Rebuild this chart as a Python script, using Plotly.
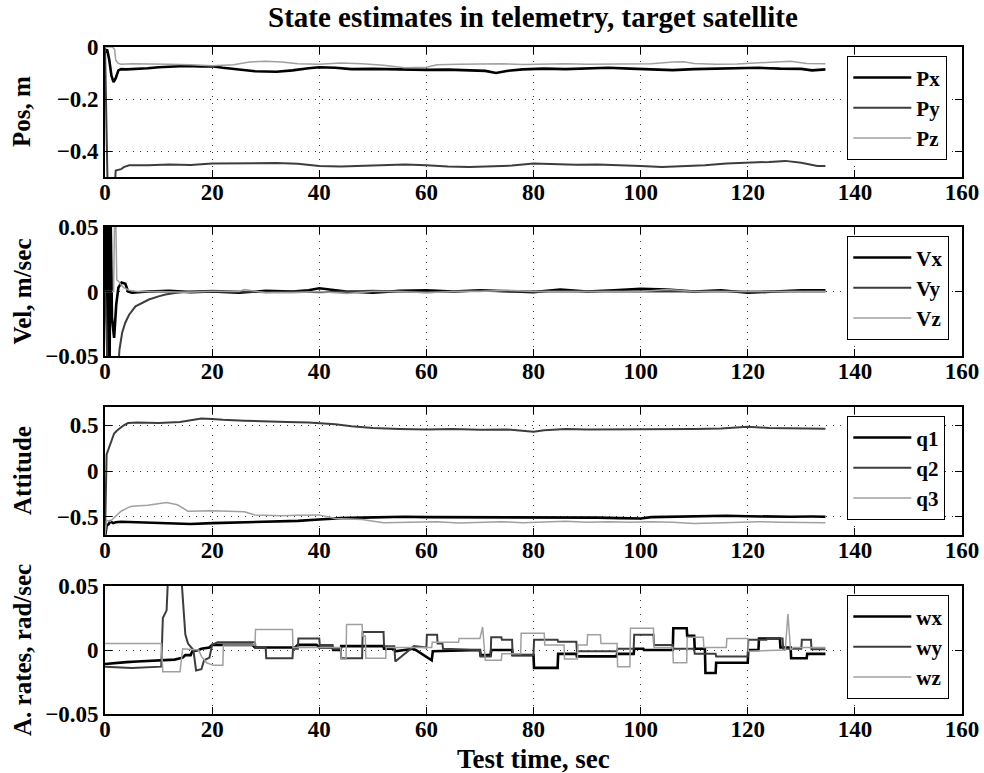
import plotly.graph_objects as go

# ---------------- data ----------------
# Position estimates, m
px_t = [0, 0.4, 0.8, 1.2, 1.6, 2.0, 2.5, 3.0, 4, 6, 8, 10, 12, 15, 18, 20, 22, 25, 28, 32, 35, 38, 40, 43,
        46, 50, 53, 56, 60, 64, 68, 71, 73, 75, 78, 82, 86, 90, 94, 98, 102, 106, 110, 114, 118, 122, 126,
        130, 132, 134.5]
px_v = [-0.02, -0.01, -0.05, -0.11, -0.135, -0.12, -0.09, -0.085, -0.086, -0.085, -0.082, -0.078, -0.076,
        -0.073, -0.075, -0.074, -0.08, -0.086, -0.093, -0.095, -0.09, -0.082, -0.078, -0.08, -0.085, -0.084,
        -0.086, -0.087, -0.088, -0.087, -0.09, -0.092, -0.1, -0.092, -0.086, -0.083, -0.085, -0.082, -0.08,
        -0.083, -0.086, -0.089, -0.085, -0.083, -0.082, -0.08, -0.083, -0.084, -0.09, -0.086]
py_t = [0, 0.3, 0.5, 1.8, 2.0, 3.0, 3.5, 4.5, 8, 12, 16, 20, 24, 28, 32, 36, 40, 44, 48, 52, 56, 60, 64,
        68, 72, 76, 80, 84, 88, 92, 96, 100, 104, 108, 112, 116, 120, 124, 127, 130, 133, 134.5]
py_v = [0, -0.3, -0.55, -0.55, -0.475, -0.47, -0.462, -0.455, -0.455, -0.452, -0.454, -0.448, -0.447,
        -0.445, -0.446, -0.449, -0.458, -0.46, -0.457, -0.455, -0.452, -0.455, -0.46, -0.462, -0.458,
        -0.456, -0.448, -0.45, -0.453, -0.452, -0.454, -0.458, -0.462, -0.458, -0.455, -0.448, -0.446,
        -0.442, -0.438, -0.445, -0.458, -0.458]
pz_t = [0, 1.4, 1.8, 2.0, 2.4, 3, 5, 8, 12, 16, 20, 24, 27, 30, 33, 36, 40, 44, 48, 52, 56, 60, 62, 66,
        70, 74, 78, 82, 86, 90, 94, 98, 102, 106, 108, 110, 114, 118, 122, 126, 128, 131, 134.5]
pz_v = [0, 0, -0.01, -0.05, -0.062, -0.066, -0.064, -0.064, -0.066, -0.068, -0.072, -0.068, -0.058,
        -0.055, -0.058, -0.064, -0.066, -0.062, -0.064, -0.07, -0.08, -0.078, -0.068, -0.066, -0.065,
        -0.064, -0.067, -0.066, -0.064, -0.066, -0.065, -0.063, -0.064, -0.058, -0.057, -0.063, -0.066,
        -0.065, -0.062, -0.059, -0.055, -0.063, -0.064]

# Velocity estimates, m/sec
vx_t = [0, 0.25, 0.45, 0.65, 0.85, 1.05, 1.3, 1.7, 2.1, 2.5, 3.1, 3.8, 4.3, 5, 8, 12, 16, 20, 25, 30, 35,
        38, 40, 45, 50, 55, 60, 65, 70, 75, 80, 85, 90, 95, 100, 105, 110, 115, 120, 125, 130, 134.5]
vx_v = [0, 0.06, -0.06, 0.06, -0.06, 0.06, -0.02, -0.036, -0.01, 0.003, 0.007, 0.006, 0.0, -0.001, 0.0,
        0.0005, -0.0005, 0.0, -0.001, 0.0005, 0.0, 0.001, 0.0025, 0.0, -0.001, 0.0005, 0.001, 0.0, 0.001,
        0.0, -0.0005, 0.0015, 0.0, 0.001, 0.002, 0.0015, 0.0, 0.001, -0.001, 0.0, 0.001, 0.001]
vy_t = [0, 0.3, 0.5, 2.3, 2.7, 3.2, 3.8, 4.5, 5.7, 7, 8.2, 10, 11.3, 13, 14.4, 16, 20, 25, 30, 35, 40, 45,
        50, 55, 60, 65, 70, 75, 80, 85, 90, 95, 100, 105, 110, 115, 120, 125, 130, 134.5]
vy_v = [0, -0.03, -0.07, -0.07, -0.045, -0.032, -0.024, -0.018, -0.0115, -0.0085, -0.0062, -0.0038,
        -0.0023, -0.0012, -0.0005, 0.0, 0.0005, 0.0, -0.0005, 0.0, -0.0005, 0.0, 0.0005, 0.0, -0.0005, 0.0,
        0.0005, 0.0, 0.0, 0.0005, 0.0, 0.0, 0.0005, 0.0, 0.0, 0.0005, 0.0, 0.0, 0.0005, 0.0]
vz_t = [0, 1.6, 1.8, 2.0, 2.2, 2.5, 3.0, 3.5, 4.5, 6, 10, 15, 20, 25, 26, 28, 30, 35, 40, 45, 50, 55, 60,
        65, 70, 75, 80, 85, 90, 95, 100, 105, 110, 115, 120, 125, 130, 134.5]
vz_v = [0, 0.0, 0.06, 0.06, 0.009, 0.008, 0.005, 0.003, 0.001, 0.0, 0.0, -0.0005, 0.0, 0.0, 0.0015, 0.0,
        -0.001, -0.001, 0.0, -0.0015, 0.0, 0.0, -0.001, 0.0, 0.0, 0.001, 0.0, 0.0, 0.0, 0.0, 0.0, 0.0015,
        0.0, 0.0, 0.0, 0.0005, 0.0, 0.0]

# Attitude quaternion components
q1_t = [0, 0.3, 0.7, 1.0, 1.5, 2.0, 3, 5, 8, 10, 13, 16, 20, 24, 28, 32, 36, 40, 44, 48, 52, 56, 60, 64,
        68, 72, 76, 80, 84, 88, 92, 96, 100, 102, 106, 110, 114, 116, 120, 124, 128, 132, 134.5]
q1_v = [-0.72, -0.6, -0.58, -0.55, -0.57, -0.56, -0.555, -0.56, -0.565, -0.57, -0.575, -0.58, -0.57,
        -0.565, -0.56, -0.555, -0.545, -0.53, -0.515, -0.51, -0.505, -0.5, -0.505, -0.505, -0.51, -0.505,
        -0.51, -0.505, -0.505, -0.51, -0.51, -0.515, -0.52, -0.505, -0.5, -0.5, -0.495, -0.49, -0.495,
        -0.5, -0.5, -0.498, -0.5]
q2_t = [0, 0.3, 0.6, 1.0, 1.7, 2.2, 3.0, 3.5, 4.3, 6, 10, 14, 16, 18, 20, 22, 26, 30, 34, 38, 40, 43, 46,
        50, 55, 60, 65, 70, 75, 78, 80, 82, 86, 90, 95, 100, 105, 110, 115, 120, 124, 128, 132, 134.5]
q2_v = [-0.7, 0.18, 0.23, 0.3, 0.41, 0.44, 0.48, 0.5, 0.525, 0.53, 0.525, 0.535, 0.555, 0.575, 0.57,
        0.56, 0.55, 0.54, 0.535, 0.53, 0.525, 0.51, 0.49, 0.47, 0.46, 0.455, 0.46, 0.45, 0.455, 0.44, 0.43,
        0.445, 0.46, 0.455, 0.455, 0.455, 0.46, 0.46, 0.465, 0.485, 0.47, 0.465, 0.465, 0.462]
q3_t = [0, 0.3, 1.0, 2.0, 3.0, 4.3, 5, 8, 11.5, 13.5, 15.5, 20, 26, 28, 33, 36, 40, 43, 48, 52, 55, 58,
        62, 66, 70, 74, 78, 82, 86, 90, 94, 98, 102, 106, 110, 114, 118, 122, 126, 130, 134.5]
q3_v = [-0.7, -0.54, -0.55, -0.5, -0.44, -0.4, -0.385, -0.375, -0.345, -0.37, -0.44, -0.435, -0.445,
        -0.48, -0.49, -0.485, -0.48, -0.52, -0.53, -0.565, -0.56, -0.56, -0.555, -0.57, -0.56, -0.555,
        -0.565, -0.555, -0.55, -0.56, -0.555, -0.56, -0.555, -0.56, -0.575, -0.57, -0.56, -0.555, -0.56,
        -0.565, -0.565]

# Angular rate estimates, rad/sec
wx_t = [0, 2, 4, 6, 8, 10.5, 13, 14.5, 15, 16, 16.3, 17.5, 18, 19.5, 20, 27.5, 28, 35.5, 36, 39.5, 40,
        42.5, 42.6, 44, 44.1, 52, 52.1, 54, 54.2, 57.5, 58, 61, 61.2, 70, 70.1, 72, 72.1, 76, 76.1, 80,
        80.1, 84.5, 84.6, 88, 88.1, 95.5, 95.6, 98.7, 98.8, 100.5, 100.6, 106, 106.1, 108.6, 108.7, 110,
        110.1, 112, 112.1, 114, 114.1, 120, 120.1, 122, 122.1, 126, 126.1, 128, 128.1, 131, 131.1, 134.5]
wx_v = [-0.011, -0.01, -0.0095, -0.009, -0.0085, -0.008, -0.0075, -0.006, -0.004, -0.004, -0.001, 0.0,
        0.001, 0.002, 0.004, 0.004, 0.002, 0.002, 0.004, 0.004, 0.002, 0.002, 0.0, 0.0, 0.003, 0.003,
        0.001, 0.001, -0.001, 0.001, 0.0, -0.008, -0.001, 0.0, -0.004, -0.004, 0.0, 0.0, -0.004, -0.004,
        -0.014, -0.014, -0.003, -0.003, -0.005, -0.005, -0.003, -0.003, 0.001, 0.001, 0.0, 0.0, 0.017,
        0.017, 0.011, 0.011, 0.001, 0.001, -0.018, -0.018, -0.01, -0.01, 0.0, 0.0, 0.009, 0.009, 0.002,
        0.002, -0.0065, -0.0065, -0.003, -0.003]
wy_t = [0, 5, 10.5, 10.8, 11.5, 11.8, 14.2, 14.5, 15, 15.5, 16.5, 17, 18, 18.5, 19.5, 20, 21, 28, 28.1,
        30, 30.1, 35, 35.1, 36, 36.1, 40, 40.1, 42.5, 42.6, 44, 44.1, 48, 48.1, 52, 52.1, 54, 54.2, 57.7,
        60, 60.1, 62, 62.1, 63, 63.1, 70, 70.1, 72, 72.1, 74, 74.1, 76, 76.1, 80, 80.1, 84.5, 84.6, 88,
        88.1, 95.6, 95.7, 98.7, 98.8, 102.4, 102.5, 106, 106.1, 110, 110.1, 114, 114.1, 120, 120.1, 123.5,
        123.6, 126.5, 126.6, 130, 130.1, 131.8, 131.9, 134.5]
wy_v = [-0.013, -0.014, -0.013, 0.025, 0.031, 0.06, 0.06, 0.042, 0.012, 0.005, 0.0, -0.016, -0.015,
        -0.008, -0.006, 0.004, 0.006, 0.006, 0.002, 0.002, -0.0065, -0.0065, 0.001, 0.001, 0.009, 0.009,
        0.004, 0.004, 0.001, 0.001, -0.0065, -0.0065, 0.014, 0.014, 0.003, 0.003, -0.009, 0.003, 0.002,
        0.012, 0.012, 0.005, 0.005, 0.001, 0.0, -0.005, -0.005, 0.01, 0.01, 0.008, 0.008, -0.004, -0.004,
        0.008, 0.008, 0.0065, 0.0065, -0.001, -0.001, 0.001, 0.001, 0.012, 0.012, 0.004, 0.004, 0.001,
        0.001, -0.003, -0.003, -0.005, -0.005, 0.008, 0.008, 0.009, 0.009, 0.001, 0.001, 0.008, 0.008,
        0.0005, 0.0005]
wz_t = [0, 10.5, 10.8, 14, 14.5, 17.5, 18, 19, 20.2, 22, 22.1, 28, 28.1, 35, 35.1, 44, 44.1, 45, 45.1, 48,
        48.1, 48.6, 48.7, 52.4, 52.5, 61, 61.1, 66, 66.1, 70, 70.5, 71, 74, 74.1, 77.6, 77.7, 82, 82.1,
        85.7, 85.8, 88.2, 88.3, 90, 90.1, 92.5, 92.6, 95.6, 95.7, 98, 98.1, 102.4, 102.5, 106, 106.1, 108.6,
        108.7, 111.7, 111.8, 116, 116.1, 120, 120.1, 127, 127.5, 128, 128.5, 134.5]
wz_v = [0.005, 0.005, -0.017, -0.017, 0.001, 0.0, -0.005, -0.01, -0.012, -0.012, 0.004, 0.004, 0.016,
        0.016, 0.002, 0.002, -0.007, -0.007, 0.02, 0.02, 0.011, 0.011, -0.0065, -0.0065, 0.002, 0.002,
        0.006, 0.006, 0.009, 0.009, 0.018, -0.008, -0.008, -0.003, -0.003, 0.013, 0.013, 0.004, 0.004,
        -0.007, -0.007, 0.004, 0.004, 0.012, 0.012, 0.005, 0.005, -0.013, -0.013, 0.017, 0.017, 0.002,
        0.002, -0.01, -0.01, 0.01, 0.01, 0.002, 0.002, 0.009, 0.009, -0.001, 0.0, 0.028, 0.0, 0.002, 0.002]

panel_names = ["Pos, m", "Vel, m/sec", "Attitude", "A. rates, rad/sec"]
y_ranges = [[-0.5, 0], [-0.05, 0.05], [-0.7, 0.7], [-0.05, 0.05]]
y_ticks = [[-0.4, -0.2, 0], [-0.05, 0, 0.05], [-0.5, 0, 0.5], [-0.05, 0, 0.05]]
x_ticks = [0, 20, 40, 60, 80, 100, 120, 140, 160]

series = [
    [("Px", px_t, px_v), ("Py", py_t, py_v), ("Pz", pz_t, pz_v)],
    [("Vx", vx_t, vx_v), ("Vy", vy_t, vy_v), ("Vz", vz_t, vz_v)],
    [("q1", q1_t, q1_v), ("q2", q2_t, q2_v), ("q3", q3_t, q3_v)],
    [("wx", wx_t, wx_v), ("wy", wy_t, wy_v), ("wz", wz_t, wz_v)],
]

# ---------------- styling ----------------
W, H = 984, 773
FONT = "Liberation Serif"
line_styles = [dict(color="#000000", width=2.6), dict(color="#3d3d3d", width=2.0),
               dict(color="#a0a0a0", width=1.5)]
x_left, x_right = 105, 962
panel_px = [(47, 177), (227, 356), (407, 535), (586, 714)]   # (top, bottom) in pixels

fig = go.Figure()
layout = dict(width=W, height=H, margin=dict(l=0, r=0, t=0, b=0, autoexpand=False),
              paper_bgcolor="white", plot_bgcolor="white", showlegend=True,
              font=dict(family=FONT, color="black"))
annotations = []

for i, (group, name, yr, yt) in enumerate(zip(series, panel_names, y_ranges, y_ticks)):
    k = "" if i == 0 else str(i + 1)
    top, bot = panel_px[i]
    leg = "legend" + k
    for (label, t, v), st in zip(group, line_styles):
        fig.add_trace(go.Scatter(x=t, y=v, mode="lines", name=label, line=st,
                                 xaxis="x" + k, yaxis="y" + k, legend=leg, cliponaxis=True))
    common = dict(showline=True, linecolor="black", linewidth=1.6, mirror="ticks",
                  ticks="inside", ticklen=7, tickwidth=1.3, tickcolor="black",
                  showgrid=True, gridcolor="#3a3a3a", gridwidth=1, griddash="1px,6px",
                  zeroline=False, tickfont=dict(family=FONT, size=23, weight="bold", color="black"))
    layout["xaxis" + k] = dict(common, domain=[x_left / W, x_right / W], range=[0, 160],
                               tickvals=x_ticks, anchor="y" + k, ticklabelstandoff=-6)
    layout["yaxis" + k] = dict(common, domain=[1 - bot / H, 1 - top / H], range=yr,
                               tickvals=yt, anchor="x" + k)
    layout[leg] = dict(x=847 / W, y=1 - (top + 9) / H, xanchor="left", yanchor="top",
                       bgcolor="white", bordercolor="black", borderwidth=1.3,
                       font=dict(family=FONT, size=21, weight="bold", color="black"),
                       itemwidth=58, tracegroupgap=0)
    annotations.append(dict(text=name, xref="paper", yref="paper", x=22 / W,
                            y=1 - (top + bot) / 2 / H, textangle=-90, showarrow=False,
                            xanchor="center", yanchor="middle",
                            font=dict(family=FONT, size=25, weight="bold", color="black")))

annotations.append(dict(text="State estimates in telemetry, target satellite", xref="paper",
                        yref="paper", x=533 / W, y=1 - 17 / H, showarrow=False,
                        xanchor="center", yanchor="middle",
                        font=dict(family=FONT, size=29, weight="bold", color="black")))
annotations.append(dict(text="Test time, sec", xref="paper", yref="paper", x=533 / W,
                        y=1 - 759 / H, showarrow=False, xanchor="center", yanchor="middle",
                        font=dict(family=FONT, size=27, weight="bold", color="black")))
layout["annotations"] = annotations

fig.update_layout(**layout)
fig.write_html("out.html")
